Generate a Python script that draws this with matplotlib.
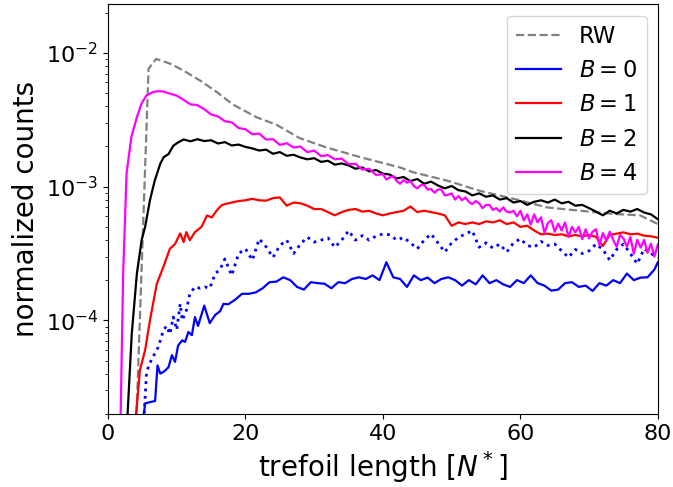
import numpy as np
import matplotlib
matplotlib.use("Agg")
import matplotlib.pyplot as plt

# ---------------- data (values in units of 1e-4) ----------------
rw_x = [3.8, 5.9, 7.0, 9.3, 11.5, 13.4, 15.8, 18.2, 21.6, 24.5, 27.9, 31.8, 36.7,
        39.6, 42.5, 44.4, 49.3, 54.1, 59.9, 63.8, 68.7, 73.5, 77.4, 80.0]
rw_y = [0.06, 76, 90, 82, 71, 62, 51, 41, 33, 29, 23, 19.6, 16.6,
        15.2, 13.9, 12.8, 11.1, 9.3, 7.9, 7.0, 6.6, 6.25, 6.1, 5.25]

b4_x = ([1.8, 2.2, 2.7, 3.4, 4.2, 4.9, 5.6, 6.4, 7.0]
        + list(np.arange(8, 40, 1.0)) + list(np.arange(40, 80.01, 0.5)))
b4_y = [0.15, 2.2, 12.6, 23.5, 33, 42, 48, 50.5, 51.5,
        51.5, 49.5, 47.8, 44.5, 41.2, 40.6, 37.9, 34.6, 33.5, 30.8, 30.2, 27.4, 26.8, 24.6,
        24.9, 22.5, 22.6, 20.5, 21.1, 19.6, 19.9, 18.1, 18.6, 16.9, 17.2, 16.0, 16.2, 14.7,
        14.8, 13.4, 13.6, 12.2,
        12.4, 11.3, 11.7, 12.0, 11.0, 10.5, 11.2, 10.7, 11.0, 10.1, 9.7, 10.25, 10.3, 9.5,
        9.6, 9.0, 9.5, 9.5, 8.6, 8.7, 8.9, 8.0, 8.5, 7.9, 8.3, 7.7, 7.4, 7.8, 7.5, 6.9,
        7.3, 7.3, 6.7, 6.9, 6.5, 7.0, 6.5, 6.4, 6.6, 6.0,
        6.6, 5.6, 6.2, 5.2, 6.2, 5.4, 5.9, 4.5, 5.35, 5.6, 4.6, 5.3, 4.7, 5.4, 4.2, 5.0,
        4.55, 5.0, 4.05, 4.8, 4.1, 4.6, 4.8, 3.65, 4.5, 3.95, 4.6, 4.0, 3.55, 4.35, 4.1,
        3.55, 4.2, 3.15, 4.0, 3.5, 4.0, 3.2, 3.75, 3.0, 3.7]

b2_x = [2.8, 3.45, 4.2, 4.9, 5.4, 6.1, 6.8, 7.6, 8.1, 8.8, 9.5, 10.2] + list(np.arange(11, 80.01, 1.0))
b2_y = [0.18, 0.79, 2.24, 4.0, 5.0, 7.9, 11.1, 14.8, 16.6, 17.5, 20.2, 21.4,
        22.5, 21.8, 22.6, 21.9, 22.2, 21.0, 21.5, 20.3, 20.6, 19.8, 19.3, 18.6, 18.9, 17.6,
        18.1, 17.0, 17.3, 16.5, 16.0, 16.3, 15.3, 15.6, 14.6, 14.9, 14.4, 13.6, 13.9, 13.0,
        13.3, 12.5, 12.3, 11.5, 11.8, 11.0, 11.4, 10.5, 10.9, 10.2, 9.7, 10.1, 9.4, 9.2,
        8.6, 8.9, 8.4, 8.6, 8.0, 8.2, 7.6, 7.8, 7.3, 7.7, 7.9, 7.6, 8.0, 7.5, 7.7, 7.2,
        7.3, 6.9, 6.5, 6.1, 6.6, 6.3, 6.7, 6.5, 6.8, 6.4, 6.2, 5.7]

b1_x = [4.0, 4.65, 5.4, 6.1, 7.1, 8.05, 9.0, 9.75, 10.5, 11.0, 11.4, 11.9, 12.65, 13.6,
        14.4, 15.1, 15.8, 16.5] + list(np.arange(17, 80.01, 1.0))
b1_y = [0.178, 0.427, 0.60, 1.0, 1.88, 2.51, 3.43, 3.72, 4.47, 3.85, 4.57, 3.98, 4.57, 5.0,
        6.08, 5.89, 6.61, 7.24,
        7.4, 7.6, 7.8, 7.9, 8.1, 7.9, 7.85, 8.2, 8.3, 7.2, 7.6, 7.5, 7.2, 6.8, 6.8, 6.45,
        6.1, 6.45, 6.7, 6.8, 6.5, 6.6, 6.3, 6.1, 6.3, 6.45, 6.6, 7.1, 6.45, 6.6, 6.45, 6.3,
        6.1, 5.1, 5.4, 5.25, 5.4, 5.25, 5.5, 5.4, 5.6, 5.25, 5.4, 5.0, 5.1, 4.7, 4.4, 4.45,
        4.35, 4.4, 4.25, 4.35, 4.25, 4.35, 4.2, 3.6, 4.35, 4.45, 4.55, 4.4, 4.45, 4.3, 4.25,
        4.15]

b0_x = [5.1, 5.4, 6.1, 6.85, 7.2, 7.6, 8.2, 8.8, 9.3, 9.75, 10.2, 10.8, 11.2, 11.7, 12.2,
        12.65, 13.1, 14.0, 14.8, 15.6, 16.3, 16.8] + list(np.arange(17.5, 80.01, 1.0)) + [80.0]
b0_y = [0.178, 0.24, 0.245, 0.25, 0.461, 0.40, 0.417, 0.447, 0.55, 0.49, 0.65, 0.71, 0.69,
        0.82, 0.776, 1.06, 0.91, 1.29, 0.955, 1.10, 1.17, 1.33,
        1.32, 1.43, 1.58, 1.58, 1.62, 1.74, 1.93, 1.95, 2.1, 2.0, 1.78, 1.70, 1.93, 1.9,
        1.88, 1.74, 1.93, 1.9, 2.04, 2.1, 2.04, 2.17, 2.0, 2.72, 2.1, 2.04, 1.78, 2.17,
        2.0, 2.09, 1.9, 2.04, 2.1, 2.0, 1.82, 2.0, 1.86, 2.17, 1.9, 2.0, 1.86, 1.78, 2.0,
        1.9, 2.17, 1.9, 1.82, 1.67, 1.70, 1.9, 1.93, 1.78, 1.82, 1.66, 1.9, 1.82, 2.0, 1.9,
        2.24, 2.0, 2.09, 2.1, 2.4, 2.72]

b0d_x = [5.2, 5.6, 5.9, 6.4, 7.3, 8.05, 8.5, 9.0, 9.5, 10.0, 10.5, 10.8, 11.4, 11.9, 12.65,
         13.4, 14.1, 14.8, 15.6, 16.3] + list(np.arange(17, 80.01, 1.0))
b0d_y = [0.178, 0.40, 0.457, 0.518, 0.63, 0.84, 0.91, 0.79, 1.06, 0.85, 1.33, 1.0, 1.19,
         1.58, 1.78, 1.74, 1.78, 1.74, 2.24, 2.4,
         2.88, 2.17, 3.16, 3.43, 2.82, 4.07, 3.55, 2.96, 3.63, 3.98, 3.16, 3.72, 4.19, 3.85,
         3.98, 4.14, 3.52, 3.98, 4.68, 3.98, 4.3, 3.98, 4.27, 4.43, 4.37, 3.98, 4.17, 3.8,
         3.43, 3.98, 4.43, 3.8, 3.24, 3.8, 4.17, 4.43, 4.68, 3.52, 3.8, 3.47, 3.72, 3.24,
         3.8, 4.07, 3.63, 3.52, 3.89, 3.63, 3.72, 3.31, 2.96, 3.39, 3.16, 3.31, 3.72, 3.39,
         2.82, 3.39, 3.72, 3.16, 2.65, 3.43, 3.16, 2.96]

scale = 1e-4

fig = plt.figure(figsize=(6.73, 4.87), dpi=100)
ax = fig.add_axes([0.1605, 0.150, 0.817, 0.841])

lw = 1.6
ax.plot(rw_x, np.array(rw_y) * scale, color='gray', ls='--', lw=lw, label='RW')
ax.plot(b0_x, np.array(b0_y) * scale, color='blue', lw=lw, label='$B=0$')
ax.plot(b0d_x, np.array(b0d_y) * scale, color='blue', ls=':', lw=2)
ax.plot(b1_x, np.array(b1_y) * scale, color='red', lw=lw, label='$B=1$')
ax.plot(b2_x, np.array(b2_y) * scale, color='black', lw=lw, label='$B=2$')
ax.plot(b4_x, np.array(b4_y) * scale, color='magenta', lw=lw, label='$B=4$')

ax.set_yscale('log')
ax.set_xlim(0, 80)
ax.set_ylim(2.0e-5, 2.3e-2)
ax.set_xticks([0, 20, 40, 60, 80])
ax.tick_params(labelsize=16)
ax.set_xlabel('trefoil length [$N^*$]', fontsize=20)
ax.set_ylabel('normalized counts', fontsize=20)
ax.legend(loc='upper right', fontsize=16.3)

fig.savefig('out.png', dpi=100)
